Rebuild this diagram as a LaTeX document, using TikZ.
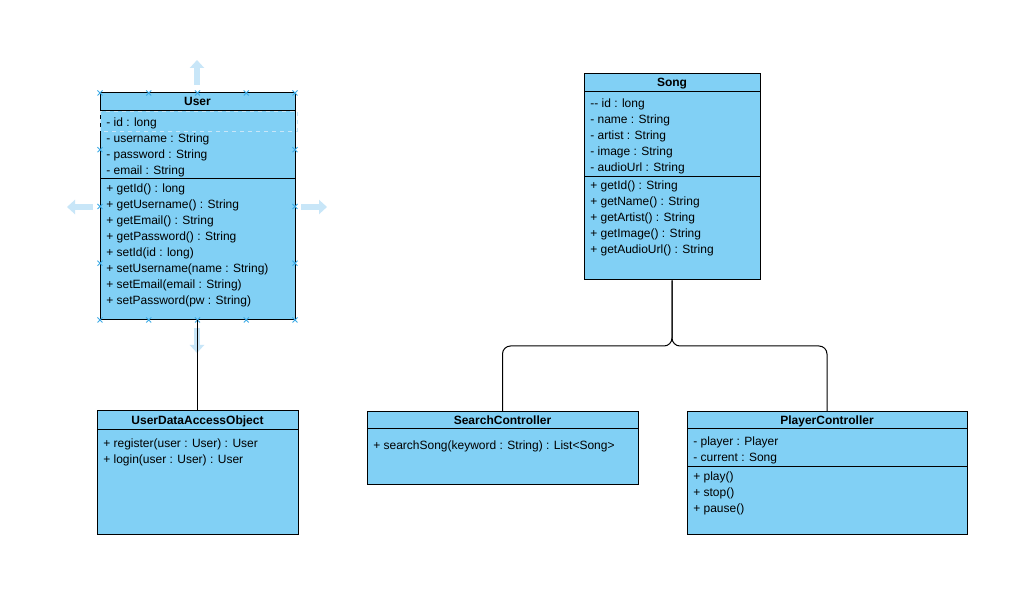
\documentclass[tikz,border=0pt]{standalone}
\usepackage{fontspec}
\setmainfont{Liberation Sans}
\usetikzlibrary{fit,arrows.meta}
\definecolor{clsfill}{RGB}{129,208,245}
\definecolor{hint}{RGB}{200,230,248}
\definecolor{handle}{RGB}{60,170,230}
\tikzset{
  cls/.style={draw=black, fill=clsfill, line width=0.75pt, inner sep=0pt},
  sepline/.style={draw=black, line width=0.75pt},
  ctitle/.style={font=\bfseries\fontsize{9}{11}\selectfont, anchor=base, inner sep=0pt, yshift=-0.75pt},
  member/.style={font=\fontsize{9}{11}\selectfont, anchor=base west, inner sep=0pt, yshift=-1.5pt},
  link/.style={draw=black, line width=0.75pt, rounded corners=6pt},
  hintarrow/.style={draw=hint, line width=4pt, -{Triangle[length=6pt,width=10.5pt]}},
  handlemark/.style={draw=handle, line width=0.6pt},
}
\begin{document}
\begin{tikzpicture}[x=0.75pt,y=-0.75pt]
\fill[white] (0,0) rectangle (1015,609);
\useasboundingbox (0,0) rectangle (1015,609);

% editor hint arrows around User
\draw[hintarrow] (197,85) -- (197,60);
\draw[hintarrow] (93,207) -- (67,207);
\draw[hintarrow] (301,207) -- (327,207);
\draw[hintarrow] (197,328) -- (197,353);

% ---------- User ----------
\node[cls, fit={(100,93) (295,320)}] (user) {};
\draw[draw=hint, dashed, line width=0.6pt] (100,111) rectangle (297,131);
\draw[sepline] (100,111) -- (295,111);
\draw[sepline] (100,179) -- (295,179);
\node[ctitle] (userT) at (197.5,105) {User};
\foreach \t [count=\i] in {- id : long, - username : String, - password : String, - email : String}
  \node[member] (userA\i) at (106,{109+16*\i}) {\t};
\foreach \t [count=\i] in {+ getId() : long, + getUsername() : String, + getEmail() : String, + getPassword() : String, + setId(id : long), + setUsername(name : String), + setEmail(email : String), + setPassword(pw : String)}
  \node[member] (userM\i) at (106,{175+16*\i}) {\t};

% selection handles
\foreach \x in {100,148.75,197.5,246.25,295}{
  \foreach \y in {93,320}{
    \draw[handlemark] (\x-2.5,\y-2.5) -- (\x+2.5,\y+2.5) (\x-2.5,\y+2.5) -- (\x+2.5,\y-2.5);
  }
}
\foreach \x in {100,295}{
  \foreach \y in {149.75,206.5,263.25}{
    \draw[handlemark] (\x-2.5,\y-2.5) -- (\x+2.5,\y+2.5) (\x-2.5,\y+2.5) -- (\x+2.5,\y-2.5);
  }
}

% ---------- UserDataAccessObject ----------
\node[cls, fit={(97,411) (298,535)}] (udao) {};
\draw[sepline] (97,430) -- (298,430);
\node[ctitle] (udaoT) at (197.5,424) {UserDataAccessObject};
\node[member] (udaoM1) at (103,446) {+ register(user : User) : User};
\node[member] (udaoM2) at (103,462) {+ login(user : User) : User};

% ---------- Song ----------
\node[cls, fit={(584,74) (760,280)}] (song) {};
\draw[sepline] (584,91.5) -- (760,91.5);
\draw[sepline] (584,177) -- (760,177);
\node[ctitle] (songT) at (672,86) {Song};
\foreach \t [count=\i] in {-{}- id : long, - name : String, - artist : String, - image : String, - audioUrl : String}
  \node[member] (songA\i) at (590,{90+16*\i}) {\t};
\foreach \t [count=\i] in {+ getId() : String, + getName() : String, + getArtist() : String, + getImage() : String, + getAudioUrl() : String}
  \node[member] (songM\i) at (590,{172+16*\i}) {\t};

% ---------- SearchController ----------
\node[cls, fit={(367,412) (638,485)}] (search) {};
\draw[sepline] (367,429) -- (638,429);
\node[ctitle] (searchT) at (502.5,424) {SearchController};
\node[member] (searchM1) at (373,448) {+ searchSong(keyword : String) : List<Song>};

% ---------- PlayerController ----------
\node[cls, fit={(687,412) (967,535)}] (player) {};
\draw[sepline] (687,429) -- (967,429);
\draw[sepline] (687,467) -- (967,467);
\node[ctitle] (playerT) at (827,424) {PlayerController};
\node[member] (playerA1) at (693,444) {- player : Player};
\node[member] (playerA2) at (693,460) {- current : Song};
\node[member] (playerM1) at (693,479) {+ play()};
\node[member] (playerM2) at (693,495) {+ stop()};
\node[member] (playerM3) at (693,511) {+ pause()};

% ---------- connectors ----------
\coordinate (bus) at (672,346);
\draw[link] (user.south) -- (udao.north);
\draw[link] (song.south) -- (song.south |- bus) -| (search.north);
\draw[link] (song.south) -- (song.south |- bus) -| (player.north);
\end{tikzpicture}
\end{document}
